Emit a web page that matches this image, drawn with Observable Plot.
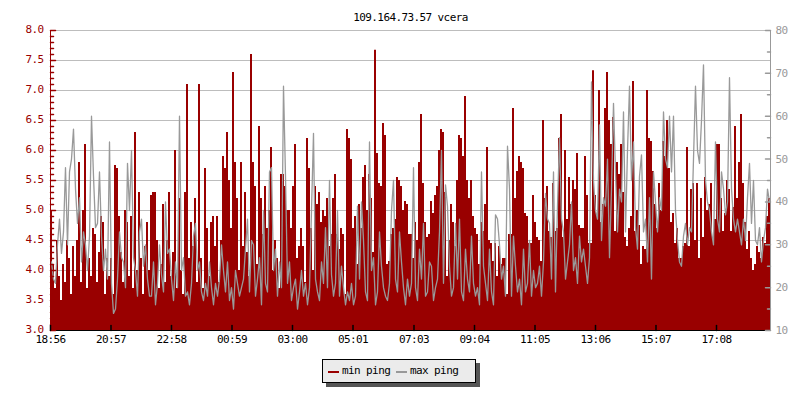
<!DOCTYPE html>
<html>
<head>
<meta charset="utf-8">
<script src="https://cdn.jsdelivr.net/npm/d3@7"></script>
<script src="https://cdn.jsdelivr.net/npm/@observablehq/plot@0.6"></script>
<style>
  body { margin: 0; background: #fff; }
  #wrap { position: relative; width: 800px; height: 400px; overflow: hidden; }
  .legend { position: absolute; left: 322px; top: 359px; width: 154px; height: 24px; box-sizing: border-box;
    background: #ebebeb; border: 1px solid #000; box-shadow: 4px 4px 0 #555;
    font-family: "DejaVu Sans Mono", monospace; font-size: 11px; letter-spacing: -0.6px; color: #000; }
  .sw { position: absolute; top: 11px; width: 11px; height: 2px; }
  .lt { position: absolute; top: 4px; line-height: 14px; white-space: nowrap; }
</style>
</head>
<body>
<div id="wrap"></div>
<script>
const title = "109.164.73.57 vcera";
const seriesNames = ["min ping", "max ping"];
const sampleMinutes = 4; // one sample every 4 minutes, 24 h from 18:56
const tickLabels = ["18:56","20:57","22:58","00:59","03:00","05:01","07:03","09:04","11:05","13:06","15:07","17:08"];
const tickMinutes = [0,121,242,363,484,605,727,848,969,1090,1211,1332];
const leftTicks = [3.0,3.5,4.0,4.5,5.0,5.5,6.0,6.5,7.0,7.5,8.0];
const rightTicks = [10,20,30,40,50,60,70,80];

// min ping (ms, left axis)
const minPing = [
 5.0,4.1,3.7,4.5,3.9,3.5,4.1,3.8,4.5,4.2,3.6,4.4,3.9,4.5,5.8,3.8,5.0,6.1,3.7,4.2,3.9,4.7,4.6,3.8,4.3,4.9,4.8,3.6,4.2,3.9,4.2,3.6,5.75,5.7,4.9,4.3,
 3.8,5.0,4.8,3.9,4.9,3.7,6.3,4.0,5.3,4.2,3.6,4.4,4.8,4.0,5.25,5.3,5.3,4.5,3.7,4.1,5.1,3.8,4.5,5.3,3.9,4.3,6.0,3.7,5.2,4.0,3.6,5.3,7.1,4.2,4.8,4.4,
 5.2,3.8,7.1,4.2,3.7,5.7,4.7,3.9,4.8,4.9,4.4,4.9,3.8,4.5,5.9,5.7,6.3,5.5,4.7,7.3,5.8,5.2,4.0,5.8,4.4,5.3,4.3,3.9,7.6,5.8,5.4,4.1,6.4,5.2,4.6,5.4,
 4.7,5.0,6.05,4.0,4.5,4.2,3.7,5.6,5.6,5.4,5.0,5.0,4.7,5.4,6.1,4.2,4.4,4.7,4.4,3.8,6.2,5.7,4.7,4.0,5.4,5.1,5.3,4.8,5.0,4.9,5.2,4.4,4.6,5.2,5.6,4.6,
 4.35,4.7,4.6,3.6,6.35,6.2,5.85,4.7,4.9,4.1,5.1,4.7,5.55,5.75,5.0,5.6,5.2,4.3,7.67,5.95,5.45,5.4,6.45,6.25,4.1,4.15,4.6,4.7,4.85,5.55,5.5,5.4,5.0,5.15,5.1,4.6,
 4.6,4.2,4.8,4.5,5.8,6.6,5.45,4.8,4.55,4.6,5.15,4.95,5.25,5.4,6.0,6.35,6.3,5.3,3.9,4.5,5.1,4.8,4.4,5.5,6.25,6.2,5.9,6.9,5.5,5.2,5.5,4.9,4.7,4.6,4.1,4.8,
 4.65,5.1,6.05,4.5,4.45,4.15,4.45,3.9,4.4,4.1,4.2,4.2,3.6,4.6,4.6,6.7,5.2,5.65,5.9,5.8,5.7,4.95,4.9,4.45,4.45,5.25,4.8,4.55,4.5,4.15,6.5,5.2,5.4,4.65,4.55,5.45,
 4.65,4.7,6.2,6.6,4.55,6.0,4.85,5.55,5.1,5.5,5.35,5.95,4.75,4.7,4.7,5.9,5.25,4.45,4.45,7.33,5.25,4.9,7.0,4.8,5.1,6.7,7.3,6.5,6.1,6.55,4.65,5.8,5.6,6.1,5.3,4.55,
 4.4,4.7,4.9,7.15,4.65,5.0,4.75,4.1,4.4,4.35,7.0,6.2,6.15,5.65,5.1,4.7,5.45,5.0,6.15,5.9,6.5,5.7,4.8,4.95,4.45,4.7,4.2,4.2,4.4,4.45,6.05,4.4,5.35,5.45,4.5,5.45,
 4.2,5.2,4.55,5.55,5.0,5.1,5.45,4.55,4.85,6.1,6.1,5.2,4.65,4.95,5.5,5.35,4.65,5.05,6.4,5.2,5.8,6.6,5.45,4.8,4.35,4.65,4.2,4.0,4.1,4.4,4.3,4.2,4.55,4.45,4.9,5.2
];
// max ping (ms, right axis)
const maxPing = [
 26,22,21,30,36,28,33,48,30,47,50,57,43,35,41,26,33,30,24,32,60,46,34,35,47,32,24,29,22,54,21,14,15,22,33,27,
 26,20,49,38,52,27,24,18,33,36,25,30,22,18,18,26,16,21,30,23,19,40,28,29,22,17,26,20,60,24,27,18,19,16,21,32,
 35,24,26,19,17,21,18,26,20,16,21,18,22,30,24,19,26,17,20,15,24,21,18,20,22,29,36,19,31,30,18,22,27,16,38,21,
 19,47,48,24,29,18,26,20,67,46,21,26,17,20,22,15,19,24,18,21,16,20,38,56,22,19,17,26,21,34,20,45,23,18,21,38,
 18,25,20,16,19,17,21,16,18,39,22,40,31,19,17,54,24,27,16,19,33,25,20,18,17,21,38,45,22,19,33,26,20,16,22,18,
 21,48,20,17,29,22,35,18,19,26,25,17,20,22,33,52,21,44,39,25,18,20,35,22,36,19,17,29,22,19,32,21,18,20,16,47,
 25,21,17,29,19,16,37,36,30,22,25,18,53,43,18,32,25,19,22,16,29,19,21,31,18,24,20,21,25,18,26,42,36,35,22,47,
 19,39,55,36,33,22,26,30,40,24,27,21,32,26,29,25,21,27,68,45,38,36,58,31,41,39,50,27,43,63,47,33,43,40,61,33,
 52,67,45,54,34,29,46,51,33,36,26,41,22,47,40,33,41,38,61,50,48,60,47,60,38,31,26,25,32,35,30,34,33,50,67,52,
 49,59,72,45,40,38,33,30,54,36,33,47,43,37,40,69,43,36,33,36,33,30,36,31,41,49,35,45,31,30,34,26,31,34,43,40
];

const RED = "#990000", GRAY = "#999999", GRID = "#bdbdbd";
const FONT = "DejaVu Sans Mono";
const toLeft = ms => 3 + (ms - 10) / 14;   // right axis (10..80) onto left axis (3..8)

const data = minPing.map((v, i) => ({t: i * sampleMinutes, min: v, max: maxPing[i]}));
const areaData = [...data, {t: minPing.length * sampleMinutes, min: minPing[minPing.length - 1], max: maxPing[maxPing.length - 1]}];

const tickShape = {draw(ctx, l) { ctx.moveTo(0, 0); ctx.lineTo(0, -l); }};
const leftMinor = d3.range(30, 81).map(d => d / 10).filter(d => Math.round(d * 10) % 5 !== 0);
const rightMinor = [15,25,35,45,55,65,75];

const chart = Plot.plot({
  width: 800, height: 400,
  marginTop: 30, marginBottom: 70, marginLeft: 50, marginRight: 30,
  x: {domain: [0, 1440], axis: null},
  y: {domain: [3, 8], axis: null},
  style: {fontFamily: FONT, fontSize: "11px", letterSpacing: "-0.6px", background: "#fff", overflow: "visible"},
  marks: [
    Plot.ruleY(leftTicks, {stroke: GRID}),
    Plot.areaY(areaData, {x: "t", y1: 3, y2: "min", curve: "step-after", fill: RED}),
    Plot.lineY(data, {x: d => d.t + sampleMinutes / 2, y: d => toLeft(d.max), stroke: GRAY, strokeWidth: 1.3}),
    Plot.ruleX([0], {stroke: RED}),
    Plot.ruleX([1440], {stroke: GRAY}),
    Plot.ruleY([3], {stroke: "#000"}),
    Plot.vector(leftTicks, {y: d => d, frameAnchor: "left", length: 5, rotate: 90, anchor: "start", shape: tickShape, stroke: RED}),
    Plot.vector(leftMinor, {y: d => d, frameAnchor: "left", length: 3, rotate: 90, anchor: "start", shape: tickShape, stroke: RED}),
    Plot.vector(rightTicks, {y: d => toLeft(d), frameAnchor: "right", length: 5, rotate: -90, anchor: "start", shape: tickShape, stroke: GRAY}),
    Plot.vector(rightMinor, {y: d => toLeft(d), frameAnchor: "right", length: 3, rotate: -90, anchor: "start", shape: tickShape, stroke: GRAY}),
    Plot.vector(tickMinutes, {x: d => d, frameAnchor: "bottom", length: 5, rotate: 0, anchor: "start", shape: tickShape, stroke: "#000"}),
    Plot.text(leftTicks, {y: d => d, frameAnchor: "left", dx: -7, dy: -1.5, textAnchor: "end", text: d => d.toFixed(1), fill: RED, fontFamily: FONT, fontSize: 11}),
    Plot.text(rightTicks, {y: d => toLeft(d), frameAnchor: "right", dx: 5, textAnchor: "start", text: d => String(d), fill: GRAY, fontFamily: FONT, fontSize: 11}),
    Plot.text(tickMinutes, {x: d => d, frameAnchor: "bottom", dy: 12.5, text: (d, i) => tickLabels[i], fill: "#000", fontFamily: FONT, fontSize: 11}),
    Plot.text([title], {frameAnchor: "top", dy: -17, text: d => d, fill: "#000", fontFamily: FONT, fontSize: 11})
  ]
});

const wrap = document.getElementById("wrap");
wrap.appendChild(chart);

const legend = document.createElement("div");
legend.className = "legend";
const colors = [RED, GRAY];
const swX = [5, 73], txX = [19, 87];
seriesNames.forEach((name, i) => {
  const sw = document.createElement("div");
  sw.className = "sw"; sw.style.left = swX[i] + "px"; sw.style.background = colors[i];
  const tx = document.createElement("div");
  tx.className = "lt"; tx.style.left = txX[i] + "px"; tx.textContent = name;
  legend.appendChild(sw); legend.appendChild(tx);
});
wrap.appendChild(legend);
</script>
</body>
</html>
